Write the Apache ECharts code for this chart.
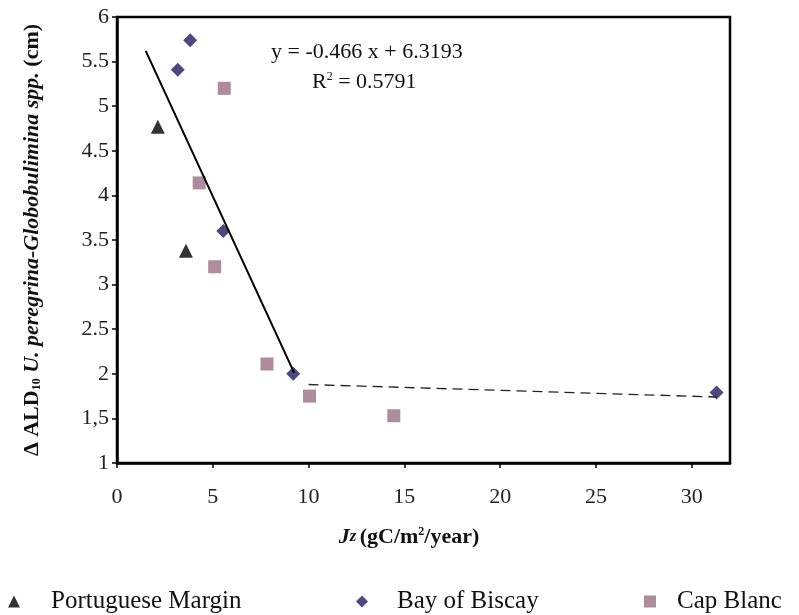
<!DOCTYPE html>
<html>
<head>
<meta charset="utf-8">
<script src="https://cdn.jsdelivr.net/npm/echarts@6/dist/echarts.min.js"></script>
<style>
  html, body { margin: 0; padding: 0; background: #fff; }
  #chart { width: 799px; height: 615px; }
</style>
</head>
<body>
<div id="chart"></div>
<script>
// data
var portuguese_margin = [[2.13, 4.77], [3.6, 3.38]];
var bay_of_biscay = [[3.82, 5.74], [3.17, 5.41], [5.55, 3.6], [9.2, 2.0], [31.3, 1.79]];
var cap_blanc = [[5.6, 5.2], [4.29, 4.14], [5.1, 3.2], [7.83, 2.11], [10.05, 1.75], [14.45, 1.53]];
// regression line y = -0.466x + 6.3193, and the dashed line past the break
var fit_line = [[1.5, 5.62], [9.25, 2.01]];
var dashed_line = [[10.0, 1.88], [31.3, 1.74]];

var x_ticks = [0, 5, 10, 15, 20, 25, 30];
var y_ticks = [1, 1.5, 2, 2.5, 3, 3.5, 4, 4.5, 5, 5.5, 6];

var serif = '"Liberation Serif", "DejaVu Serif", serif';
var chart = echarts.init(document.getElementById('chart'), null, {renderer: 'canvas'});

// one legend per entry so each sits where the figure puts it
function legendAt(name, left, gap) {
    return {
        data: [name],
        left: left,
        top: 584,
        itemWidth: 12,
        itemHeight: 12,
        textStyle: {fontFamily: serif, fontSize: 25, color: '#111', padding: [0, 0, 0, gap]},
        selectedMode: false
    };
}

var option = {
    animation: false,
    backgroundColor: '#fff',
    legend: [
        legendAt('Portuguese Margin', 3, 26),
        legendAt('Bay of Biscay', 351, 24),
        legendAt('Cap Blanc', 639, 16)
    ],
    grid: {
        left: 117, right: 69, top: 17, bottom: 152,
        show: true, borderColor: '#000', borderWidth: 2.5
    },
    xAxis: {
        type: 'value',
        min: 0, max: 32, interval: 5,
        axisLine: {show: true, lineStyle: {color: '#000', width: 2.5}},
        axisTick: {show: true, length: 5, customValues: x_ticks, lineStyle: {color: '#000', width: 1.5}},
        splitLine: {show: false},
        axisLabel: {
            fontFamily: serif, fontSize: 22, color: '#222', margin: 23,
            customValues: x_ticks
        }
    },
    yAxis: {
        type: 'value',
        min: 1, max: 6, interval: 0.5,
        axisLine: {show: true, lineStyle: {color: '#000', width: 2.5}},
        axisTick: {show: true, length: 5, customValues: y_ticks, lineStyle: {color: '#000', width: 1.5}},
        splitLine: {show: false},
        axisLabel: {
            fontFamily: serif, fontSize: 22, color: '#222', margin: 8,
            customValues: y_ticks,
            formatter: function (v) {
                // the figure writes 1,5 with a comma
                if (v === 1.5) return '1,5';
                return String(v);
            }
        },
        name: '{b|Δ ALD}{sub|10}{bi| U. peregrina-Globobulimina spp.}{b| (cm)}',
        nameLocation: 'middle',
        nameRotate: 90,
        nameGap: 74,
        nameTextStyle: {
            rich: {
                b: {fontFamily: serif, fontSize: 22, fontWeight: 'bold', color: '#111'},
                bi: {fontFamily: serif, fontSize: 22, fontWeight: 'bold', fontStyle: 'italic', color: '#111'},
                sub: {fontFamily: serif, fontSize: 12, fontWeight: 'bold', color: '#111', verticalAlign: 'bottom'}
            }
        }
    },
    graphic: [
        {
            type: 'text',
            left: 271, top: 41,
            style: {
                text: 'y = -0.466 x + 6.3193',
                font: '22px ' + serif,
                fill: '#111'
            }
        },
        {
            type: 'text',
            left: 312, top: 71,
            style: {
                text: 'R{s|2} = 0.5791',
                font: '22px ' + serif,
                fill: '#111',
                rich: {s: {fontSize: 12, fontFamily: serif, verticalAlign: 'top', padding: [0, 0, 9, 0], fill: '#111'}}
            }
        },
        {
            type: 'text',
            style: {
                x: 409, y: 537,
                align: 'center', verticalAlign: 'middle',
                text: '{it|J}{itz|z} {b|(gC/m}{sup|2}{b|/year)}',
                rich: {
                    it: {fontFamily: serif, fontSize: 22, fontWeight: 'bold', fontStyle: 'italic', fill: '#111'},
                    itz: {fontFamily: serif, fontSize: 17, fontWeight: 'bold', fontStyle: 'italic', fill: '#111'},
                    b: {fontFamily: serif, fontSize: 22, fontWeight: 'bold', fill: '#111'},
                    sup: {fontFamily: serif, fontSize: 12, fontWeight: 'bold', fill: '#111', verticalAlign: 'top', padding: [0, 0, 9, 0]}
                }
            }
        }
    ],
    series: [
        {
            name: 'Portuguese Margin',
            type: 'scatter',
            symbol: 'triangle',
            symbolSize: 14,
            itemStyle: {color: '#000'},
            data: portuguese_margin
        },
        {
            name: 'Bay of Biscay',
            type: 'scatter',
            symbol: 'diamond',
            symbolSize: 14,
            itemStyle: {color: '#1e1b5c'},
            data: bay_of_biscay
        },
        {
            name: 'Cap Blanc',
            type: 'scatter',
            symbol: 'rect',
            symbolSize: 13,
            itemStyle: {color: '#9b6f84'},
            data: cap_blanc
        },
        {
            name: 'fit',
            type: 'line',
            showSymbol: false,
            silent: true,
            data: fit_line,
            lineStyle: {color: '#000', width: 2}
        },
        {
            name: 'dashed',
            type: 'line',
            showSymbol: false,
            silent: true,
            data: dashed_line,
            lineStyle: {color: '#222', width: 1.3, type: [10, 6]}
        }
    ]
};
chart.setOption(option);
</script>
</body>
</html>
